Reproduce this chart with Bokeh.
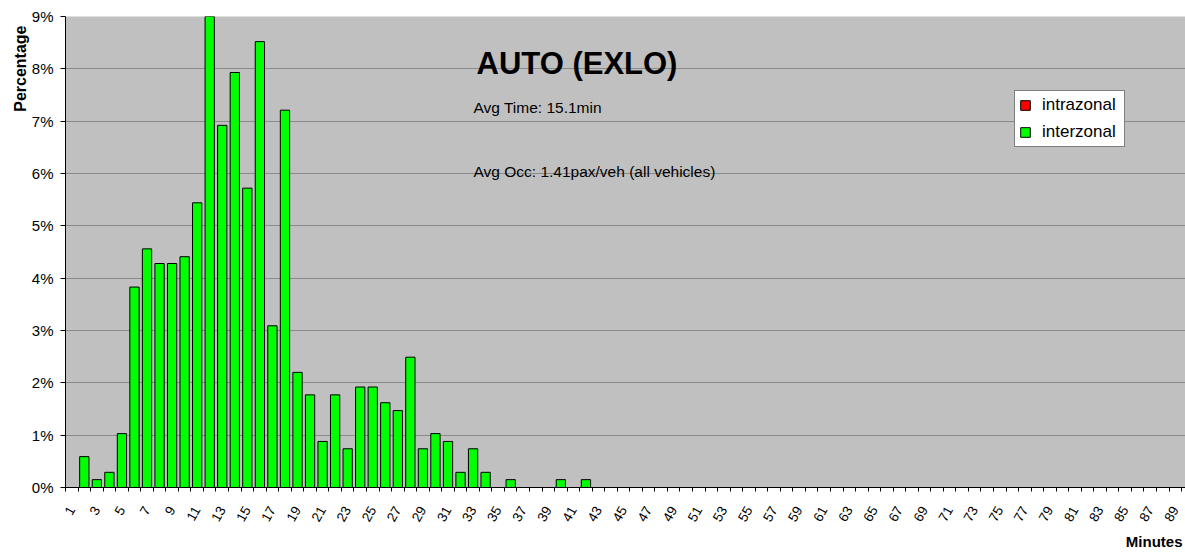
import math
from bokeh.plotting import figure
from bokeh.models import (ColumnDataSource, Range1d, FixedTicker, PrintfTickFormatter,
                          Label, Legend, LegendItem, Title)
from bokeh.embed import file_html
from bokeh.resources import INLINE

# ---------------- data ----------------
minutes = list(range(1, 91))
intrazonal = [0, 0, 0, 0, 0, 0, 0, 0, 0, 0,
              0, 0, 0, 0, 0, 0, 0, 0, 0, 0,
              0, 0, 0, 0, 0, 0, 0, 0, 0, 0,
              0, 0, 0, 0, 0, 0, 0, 0, 0, 0,
              0, 0, 0, 0, 0, 0, 0, 0, 0, 0,
              0, 0, 0, 0, 0, 0, 0, 0, 0, 0,
              0, 0, 0, 0, 0, 0, 0, 0, 0, 0,
              0, 0, 0, 0, 0, 0, 0, 0, 0, 0,
              0, 0, 0, 0, 0, 0, 0, 0, 0, 0]
interzonal = [0.00, 0.59, 0.15, 0.29, 1.03, 3.83, 4.56, 4.28, 4.28, 4.41,
              5.44, 9.05, 6.92, 7.93, 5.72, 8.52, 3.09, 7.21, 2.20, 1.77,
              0.88, 1.77, 0.74, 1.92, 1.92, 1.62, 1.47, 2.49, 0.74, 1.03,
              0.88, 0.29, 0.74, 0.29, 0.00, 0.15, 0.00, 0.00, 0.00, 0.15,
              0.00, 0.15, 0.00, 0.00, 0.00, 0.00, 0.00, 0.00, 0.00, 0.00,
              0.00, 0.00, 0.00, 0.00, 0.00, 0.00, 0.00, 0.00, 0.00, 0.00,
              0.00, 0.00, 0.00, 0.00, 0.00, 0.00, 0.00, 0.00, 0.00, 0.00,
              0.00, 0.00, 0.00, 0.00, 0.00, 0.00, 0.00, 0.00, 0.00, 0.00,
              0.00, 0.00, 0.00, 0.00, 0.00, 0.00, 0.00, 0.00, 0.00, 0.00]
x_tick_labels = [1, 3, 5, 7, 9, 11, 13, 15, 17, 19, 21, 23, 25, 27, 29, 31, 33, 35, 37, 39,
                 41, 43, 45, 47, 49, 51, 53, 55, 57, 59, 61, 63, 65, 67, 69, 71, 73, 75, 77,
                 79, 81, 83, 85, 87, 89]
y_tick_values = [0, 1, 2, 3, 4, 5, 6, 7, 8, 9]
series_names = ["intrazonal", "interzonal"]
chart_title = "AUTO (EXLO)"
avg_time_text = "Avg Time: 15.1min"
avg_occ_text = "Avg Occ: 1.41pax/veh (all vehicles)"
x_title = "Minutes"
y_title = "Percentage"

FONT = "Liberation Sans"

# ---------------- figure ----------------
p = figure(width=1185, height=552, output_backend="svg", toolbar_location=None, title=None,
           x_range=Range1d(0.5, 89.81), y_range=Range1d(0, 9),
           min_border_left=65, min_border_right=0, min_border_top=16, min_border_bottom=65,
           background_fill_color="#C0C0C0", border_fill_color="white",
           outline_line_color=None)

# stacked bars: intrazonal at bottom, interzonal on top
inter_x = [m for m, b in zip(minutes, interzonal) if b > 0]
inter_bottom = [a for a, b in zip(intrazonal, interzonal) if b > 0]
inter_top = [a + b for a, b in zip(intrazonal, interzonal) if b > 0]

src_intra = ColumnDataSource(dict(x=minutes, top=intrazonal))
src_inter = ColumnDataSource(dict(x=inter_x, bottom=inter_bottom, top=inter_top))

r_intra = p.vbar(x="x", top="top", bottom=0, width=0.74, source=src_intra,
                 fill_color="#FF0000", line_color="black", line_width=1)
r_inter = p.vbar(x="x", top="top", bottom="bottom", width=0.74, source=src_inter,
                 fill_color="#00FF00", line_color="black", line_width=1)

# ---------------- axes ----------------
xa = p.xaxis[0]
xa.ticker = FixedTicker(ticks=x_tick_labels, minor_ticks=[m - 0.5 for m in minutes] + [90.5])
xa.major_tick_out = 0
xa.major_tick_in = 0
xa.minor_tick_out = 4
xa.minor_tick_in = 0
xa.minor_tick_line_color = "black"
xa.axis_line_color = "black"
xa.major_label_orientation = 1.05
xa.major_label_text_font = FONT
xa.major_label_text_font_size = "13.5px"
xa.major_label_text_color = "black"
xa.major_label_standoff = 16

ya = p.yaxis[0]
ya.ticker = FixedTicker(ticks=y_tick_values)
ya.formatter = PrintfTickFormatter(format="%d%%")
ya.minor_tick_line_color = None
ya.major_tick_out = 5
ya.major_tick_in = 0
ya.major_tick_line_color = "black"
ya.axis_line_color = "black"
ya.major_label_text_font = FONT
ya.major_label_text_font_size = "15px"
ya.major_label_text_color = "black"
ya.major_label_standoff = 7

p.xgrid.visible = False
p.ygrid.grid_line_color = "#8a8a8a"
p.ygrid.grid_line_width = 1

# axis titles
p.add_layout(Title(text=x_title, align="right", text_font=FONT, text_font_size="15px",
                   text_font_style="bold", text_color="black", standoff=5, offset=3), "below")
p.add_layout(Title(text=y_title, align="right", text_font=FONT, text_font_size="16px",
                   text_font_style="bold", text_color="black", standoff=0, offset=9), "left")

# ---------------- texts in the plot ----------------
p.add_layout(Label(x=411, y=424, x_units="screen", y_units="screen", text=chart_title,
                   text_font=FONT, text_font_size="31px", text_font_style="bold",
                   text_align="left", text_baseline="alphabetic", text_color="black"))
p.add_layout(Label(x=408, y=380, x_units="screen", y_units="screen", text=avg_time_text,
                   text_font=FONT, text_font_size="15.5px",
                   text_align="left", text_baseline="alphabetic", text_color="black"))
p.add_layout(Label(x=408, y=316.5, x_units="screen", y_units="screen", text=avg_occ_text,
                   text_font=FONT, text_font_size="15.5px",
                   text_align="left", text_baseline="alphabetic", text_color="black"))

# ---------------- legend ----------------
legend = Legend(items=[LegendItem(label=series_names[0], renderers=[r_intra]),
                       LegendItem(label=series_names[1], renderers=[r_inter])],
                location=(949, 340), orientation="vertical", margin=0,
                background_fill_color="white", background_fill_alpha=1,
                border_line_color="black", border_line_width=1,
                label_text_font=FONT, label_text_font_size="17px", label_text_color="black",
                glyph_width=12, glyph_height=12, label_standoff=11,
                padding=4, spacing=7, label_height=20, label_width=78)
p.add_layout(legend)

open("out.html", "w").write(file_html(p, INLINE))
